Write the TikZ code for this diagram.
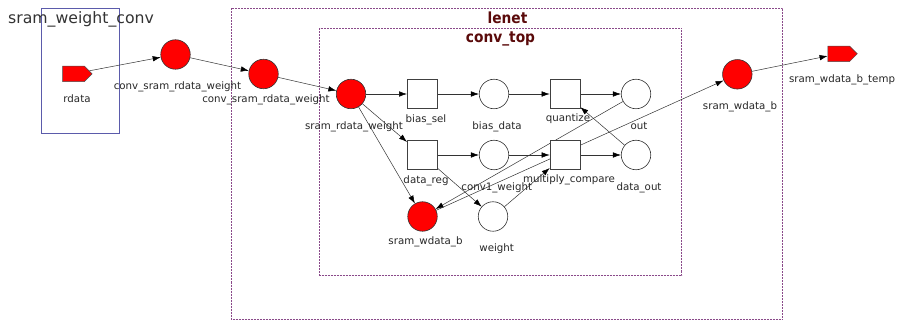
\documentclass[tikz,border=0pt]{standalone}
\usepackage{fontspec}
\setmainfont{DejaVu Sans}
\newfontfamily\titlefont[FakeStretch=0.9]{DejaVu Sans}
\usetikzlibrary{arrows.meta,shapes.symbols,backgrounds}
\definecolor{clusterblue}{HTML}{5B5BAB}
\definecolor{clusterpurple}{HTML}{8A4A8A}
\definecolor{titlered}{HTML}{5A0A0A}
\definecolor{titlegray}{HTML}{333333}
\tikzset{
  place/.style={circle, draw=black!80, line width=0.6pt, minimum size=29.5pt, inner sep=0pt, fill=white},
  redplace/.style={place, fill=red},
  trans/.style={rectangle, draw=black!75, line width=0.6pt, minimum width=30pt, minimum height=29.5pt, inner sep=0pt, fill=white},
  port/.style={signal, signal to=east, signal pointer angle=90, fill=red, draw=black!70, line width=0.5pt, minimum width=29.5pt, minimum height=15.5pt, inner sep=0pt},
  lbl/.style={font=\fontsize{10.25}{12}\selectfont, text=black!85, inner sep=0pt, anchor=base},
  conn/.style={draw=black!80, line width=0.5pt, -{Latex[length=8pt,width=5.5pt,color=black]}},
  bluebox/.style={draw=clusterblue, line width=0.8pt},
  dashbox/.style={draw=clusterpurple, line width=0.7pt, dash pattern=on 2pt off 1pt},
  ctitle/.style={font=\titlefont\bfseries\fontsize{15.3}{18}\selectfont, text=titlered, inner sep=0pt, anchor=base},
  gtitle/.style={font=\fontsize{15.7}{18}\selectfont, text=titlegray, inner sep=0pt, anchor=base west}
}
\begin{document}
\begin{tikzpicture}[x=1pt,y=-1pt]
\useasboundingbox (0,0) rectangle (899,320);

% nodes
\node[port] (rdata) at (73.5,73.8) {};
\node[redplace] (c1) at (175.5,54.5) {};
\node[redplace] (c2) at (263.5,74) {};
\node[redplace] (srw) at (351,94) {};
\node[trans] (biassel) at (422.3,94) {};
\node[place] (biasdata) at (494,94) {};
\node[trans] (quant) at (565,94) {};
\node[place] (out) at (636,94) {};
\node[trans] (datareg) at (422.3,155) {};
\node[place] (conv1w) at (494,155) {};
\node[trans] (mc) at (565,155) {};
\node[place] (dataout) at (636,155) {};
\node[redplace] (swb) at (422.5,216.5) {};
\node[place] (weight) at (493,216.5) {};
\node[redplace] (swbo) at (737.3,74.3) {};
\node[port] (temp) at (838.7,53.8) {};

% labels
\node[lbl] (l_rdata) at (77,102.7) {rdata};
\node[lbl] (l_c1) at (177.5,90) {conv\_sram\_rdata\_weight};
\node[lbl] (l_c2) at (266,102.5) {conv\_sram\_rdata\_weight};
\node[lbl] (l_srw) at (354,129.7) {sram\_rdata\_weight};
\node[lbl] (l_biassel) at (426,122.3) {bias\_sel};
\node[lbl] (l_biasdata) at (497,129.7) {bias\_data};
\node[lbl] (l_quant) at (568,122) {quantize};
\node[lbl] (l_out) at (639,129.7) {out};
\node[lbl] (l_datareg) at (426,183.3) {data\_reg};
\node[lbl] (l_conv1w) at (496.7,190.7) {conv1\_weight};
\node[lbl] (l_mc) at (569,183) {multiply\_compare};
\node[lbl] (l_dataout) at (639,190.7) {data\_out};
\node[lbl] (l_swb) at (425.5,244.7) {sram\_wdata\_b};
\node[lbl] (l_weight) at (496.7,252) {weight};
\node[lbl] (l_swbo) at (740,110) {sram\_wdata\_b};
\node[lbl] (l_temp) at (842,82.3) {sram\_wdata\_b\_temp};

% cluster titles
\node[gtitle] (t_swc) at (8,23.5) {sram\_weight\_conv};
\node[ctitle] (t_lenet) at (507.5,23.3) {lenet};
\node[ctitle] (t_conv) at (500.5,42.3) {conv\_top};

\begin{pgfonlayer}{background}
  \draw[bluebox] (41.5,8.5) rectangle (119.5,133.5);
  \draw[dashbox] (231.5,8.5) rectangle (782.5,319.5);
  \draw[dashbox] (319.5,28.5) rectangle (681.5,275.5);

  \draw[conn] (rdata) -- (c1);
  \draw[conn] (c1) -- (c2);
  \draw[conn] (c2) -- (srw);
  \draw[conn] (srw) -- (biassel);
  \draw[conn] (srw) -- (datareg);
  \draw[conn] (srw) -- (swb);
  \draw[conn] (biassel) -- (biasdata);
  \draw[conn] (biasdata) -- (quant);
  \draw[conn] (quant) -- (out);
  \draw[conn] (datareg) -- (conv1w);
  \draw[conn] (conv1w) -- (mc);
  \draw[conn] (mc) -- (dataout);
  \draw[conn] (datareg) -- (weight);
  \draw[conn] (weight) -- (mc);
  \draw[conn] (dataout) -- (quant);
  \draw[conn] (out) -- (swb);
  \draw[conn] (swb) -- (swbo);
  \draw[conn] (swbo) -- (temp);
\end{pgfonlayer}
\end{tikzpicture}
\end{document}
